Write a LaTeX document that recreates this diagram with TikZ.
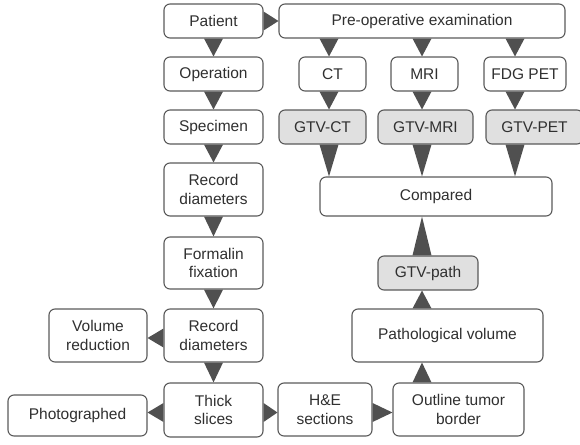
\documentclass[tikz,border=0pt]{standalone}
\usepackage{fontspec}
\setmainfont{Liberation Sans}
\usetikzlibrary{calc}
\definecolor{bordc}{HTML}{5A5A5A}
\definecolor{triс}{HTML}{505050}
\definecolor{trifill}{HTML}{505050}
\definecolor{txtc}{HTML}{303030}
\definecolor{gfill}{HTML}{E0E0E0}
\tikzset{
  box/.style={draw=bordc, line width=1.1pt, rounded corners=6pt, fill=white,
    text=txtc, align=center, inner sep=0pt, minimum height=34pt,
    font=\fontsize{15.5}{18.5}\selectfont},
  gbox/.style={box, fill=gfill},
  tri/.style={fill=trifill, draw=none}
}
\newcommand\tdown[3]{\fill[tri] ($(#1.south -| #3)+(-9.5,0)$) -- ($(#1.south -| #3)+(9.5,0)$) -- (#2.north -| #3) -- cycle;}
\newcommand\tup[3]{\fill[tri] ($(#1.north -| #3)+(-9.5,0)$) -- ($(#1.north -| #3)+(9.5,0)$) -- (#2.south -| #3) -- cycle;}
\newcommand\tright[3]{\fill[tri] ($(#1.east |- #3)+(0,-9.5)$) -- ($(#1.east |- #3)+(0,9.5)$) -- (#2.west |- #3) -- cycle;}
\newcommand\tleft[3]{\fill[tri] ($(#1.west |- #3)+(0,-9.5)$) -- ($(#1.west |- #3)+(0,9.5)$) -- (#2.east |- #3) -- cycle;}
\begin{document}
\begin{tikzpicture}[x=1pt,y=-1pt]
\useasboundingbox (0,0) rectangle (580,444);
% columns / rows for connectors
\coordinate (xA) at (213.5,0);
\coordinate (xCT) at (329,0);
\coordinate (xMRI) at (422,0);
\coordinate (xPET) at (515,0);
\coordinate (yTop) at (0,21);
\coordinate (yVol) at (0,338);
\coordinate (yBot) at (0,412.5);
% nodes
\node[box, minimum width=99pt] (patient) at (213.5,21) {Patient};
\node[box, minimum width=286pt] (preop) at (422,21) {Pre-operative examination};
\node[box, minimum width=99pt] (oper) at (213.5,74) {Operation};
\node[box, minimum width=99pt] (spec) at (213.5,127) {Specimen};
\node[box, minimum width=67pt] (ct) at (332.5,74) {CT};
\node[box, minimum width=67pt] (mri) at (424.5,74) {MRI};
\node[box, minimum width=82pt] (fdg) at (525,74) {FDG PET};
\node[gbox, minimum width=87pt] (gct) at (322.5,127) {GTV-CT};
\node[gbox, minimum width=95pt] (gmri) at (425.5,127) {GTV-MRI};
\node[gbox, minimum width=97pt] (gpet) at (534.5,127) {GTV-PET};
\node[box, minimum width=232pt, minimum height=39pt] (comp) at (436,196.5) {Compared};
\node[box, minimum width=99pt, minimum height=53pt] (rec1) at (213.5,189.5) {Record\\diameters};
\node[box, minimum width=99pt, minimum height=52pt] (form) at (213.5,263) {Formalin\\fixation};
\node[box, minimum width=99pt, minimum height=53pt] (rec2) at (213.5,335.5) {Record\\diameters};
\node[box, minimum width=98pt, minimum height=53pt] (volred) at (98,335.5) {Volume\\reduction};
\node[box, minimum width=99pt, minimum height=54pt] (thick) at (213.5,410) {Thick\\slices};
\node[box, minimum width=139pt, minimum height=41pt] (photo) at (77.5,415.5) {Photographed};
\node[box, minimum width=94pt, minimum height=53pt] (he) at (325,409.5) {H\&E\\sections};
\node[box, minimum width=131pt, minimum height=53pt] (outl) at (458.5,409.5) {Outline tumor\\border};
\node[box, minimum width=191pt, minimum height=53pt] (pvol) at (447.5,335.5) {Pathological volume};
\node[gbox, minimum width=100pt] (gpath) at (428,273) {GTV-path};
% connectors
\tright{patient}{preop}{yTop}
\tdown{patient}{oper}{xA}
\tdown{oper}{spec}{xA}
\tdown{spec}{rec1}{xA}
\tdown{rec1}{form}{xA}
\tdown{form}{rec2}{xA}
\tdown{rec2}{thick}{xA}
\tleft{rec2}{volred}{yVol}
\tleft{thick}{photo}{yBot}
\tright{thick}{he}{yBot}
\tright{he}{outl}{yBot}
\tup{outl}{pvol}{xMRI}
\tup{pvol}{gpath}{xMRI}
\tup{gpath}{comp}{xMRI}
\tdown{preop}{ct}{xCT}
\tdown{preop}{mri}{xMRI}
\tdown{preop}{fdg}{xPET}
\tdown{ct}{gct}{xCT}
\tdown{mri}{gmri}{xMRI}
\tdown{fdg}{gpet}{xPET}
\tdown{gct}{comp}{xCT}
\tdown{gmri}{comp}{xMRI}
\tdown{gpet}{comp}{xPET}
\end{tikzpicture}
\end{document}
